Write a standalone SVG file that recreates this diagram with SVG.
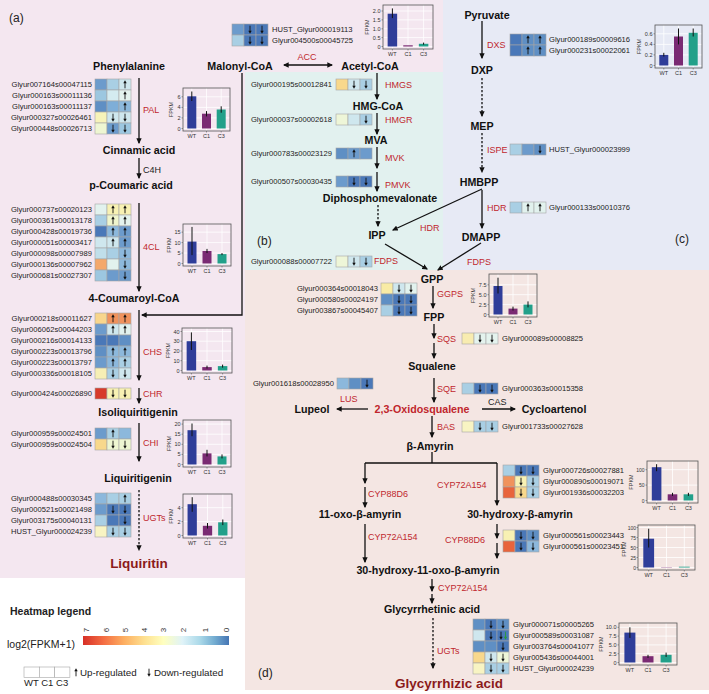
<svg xmlns="http://www.w3.org/2000/svg" width="709" height="694" viewBox="0 0 709 694">
<defs>
<marker id="ah" viewBox="0 0 10 10" refX="8" refY="5" markerWidth="4.5" markerHeight="4.5" orient="auto-start-reverse"><path d="M0,0.5L10,5L0,9.5Z" fill="#111"/></marker>
<g id="u"><path d="M0,3.8V-1.5" stroke="#111" stroke-width="0.9"/><path d="M-1.7,-1.2L0,-4.2L1.7,-1.2Z" fill="#111"/></g>
<g id="d"><path d="M0,-3.8V1.5" stroke="#111" stroke-width="0.9"/><path d="M-1.7,1.2L0,4.2L1.7,1.2Z" fill="#111"/></g>
<g id="dg"><path d="M0,-3.8V1.5" stroke="#2a9a3a" stroke-width="0.9"/><path d="M-1.7,1.2L0,4.2L1.7,1.2Z" fill="#2a9a3a"/></g>
<linearGradient id="lg" x1="0" x2="1" y1="0" y2="0">
<stop offset="0" stop-color="#d73027"/><stop offset="0.14" stop-color="#f46d43"/><stop offset="0.28" stop-color="#fdae61"/><stop offset="0.42" stop-color="#fee090"/><stop offset="0.55" stop-color="#ffffbf"/><stop offset="0.68" stop-color="#e0f3f8"/><stop offset="0.8" stop-color="#abd9e9"/><stop offset="0.9" stop-color="#74add1"/><stop offset="1" stop-color="#4575b4"/>
</linearGradient>
<style>
text{font-family:"Liberation Sans",Arial,sans-serif}
.m{font-weight:bold;font-size:10.7px;fill:#111;text-anchor:middle}
.e{font-size:9px;fill:#c0272d}
.k{font-size:9px;fill:#222}
.g{font-size:7.6px;fill:#222}
.r{text-anchor:end}
.a{font-size:5.5px;fill:#333}
.am{text-anchor:middle}
.ln{stroke:#111;stroke-width:1.3;fill:none;marker-end:url(#ah)}
.pl{stroke:#111;stroke-width:1.3;fill:none}
.dt{stroke-dasharray:2.2 1.8}
.hm rect{stroke:#a5a5a5;stroke-width:0.6}
.box{fill:none;stroke:#555;stroke-width:0.8}
.gd{stroke:#fff;stroke-width:0.8;fill:none}
.er{stroke:#111;stroke-width:1;fill:none}
.wt{fill:#2f3d99}.c1{fill:#7a2a73}.c3{fill:#22a08a}
.tk{stroke:#444;stroke-width:0.5;fill:none}
.pn{font-size:12px;fill:#222}
</style>
</defs>
<rect width="709" height="694" fill="#fff"/>
<path d="M0,0H443V72H245V578H0Z" fill="#f4e7f0"/>
<rect x="245" y="72" width="198" height="198" fill="#e2f1ef"/>
<rect x="443" y="0" width="266" height="270" fill="#e7eaf5"/>
<rect x="245" y="270" width="464" height="420" fill="#f4e6e3"/>

<text class="pn" x="9" y="22">(a)</text>
<text class="pn" x="257" y="245">(b)</text>
<text class="pn" x="675" y="243">(c)</text>
<text class="pn" x="258" y="677">(d)</text>

<!-- connectors -->
<g id="connectors">
<path class="ln" d="M139,78V143"/>
<path class="ln" d="M139,158V178"/>
<path class="ln" d="M139,203V291"/>
<path class="ln" d="M139,310V380"/>
<path class="ln" d="M139,388V403"/>
<path class="ln" d="M139,423V461"/>
<path class="ln dt" d="M139,490V550"/>
<path class="ln" d="M242,73V315H142"/>
<path class="ln" d="M284,65H332" marker-start="url(#ah)"/>
<path class="ln" d="M377,73V99"/>
<path class="ln" d="M377,113V134"/>
<path class="ln" d="M377,147V168"/>
<path class="ln" d="M377,172V191"/>
<path class="ln dt" d="M378,205V226"/>
<path class="ln" d="M482,189L393,230"/>
<path class="ln" d="M385,244L427,269"/>
<path class="ln" d="M481,243L438,270"/>
<path class="ln" d="M482,21V58"/>
<path class="ln dt" d="M482,78V116"/>
<path class="ln dt" d="M482,133V172"/>
<path class="ln" d="M482,190V228"/>
<path class="ln" d="M433,286V308"/>
<path class="ln" d="M434,324V338"/>
<path class="ln" d="M434,343V358"/>
<path class="ln" d="M434,378V402"/>
<path class="ln" d="M368,409H337"/>
<path class="ln" d="M482,409H515"/>
<path class="ln" d="M432,416V437"/>
<path class="pl" d="M432,452V463M365,463H497"/>
<path class="ln" d="M365,463V483"/>
<path class="ln" d="M365,487V507"/>
<path class="ln" d="M497,463V505"/>
<path class="ln" d="M365,524V562"/>
<path class="ln" d="M497,524V538"/>
<path class="ln" d="M497,543V558"/>
<path class="ln" d="M432,579V591"/>
<path class="ln" d="M432,594V603"/>
<path class="ln dt" d="M433,618V668"/>
</g>

<!-- metabolites -->
<g id="metabolites">
<text class="m" x="129" y="70">Phenylalanine</text>
<text class="m" x="240" y="70">Malonyl-CoA</text>
<text class="m" x="370" y="70">Acetyl-CoA</text>
<text class="m" x="139" y="154">Cinnamic acid</text>
<text class="m" x="131" y="189">p-Coumaric acid</text>
<text class="m" x="134" y="302">4-Coumaroyl-CoA</text>
<text class="m" x="138" y="416">Isoliquiritigenin</text>
<text class="m" x="138" y="482">Liquiritigenin</text>
<text class="m" x="139" y="568" style="font-size:13.5px;fill:#8b1a1a">Liquiritin</text>
<text class="m" x="378" y="110">HMG-CoA</text>
<text class="m" x="376" y="144">MVA</text>
<text class="m" x="380" y="202">Diphosphomevalonate</text>
<text class="m" x="377" y="239">IPP</text>
<text class="m" x="487" y="19">Pyruvate</text>
<text class="m" x="482" y="74">DXP</text>
<text class="m" x="482" y="130">MEP</text>
<text class="m" x="479" y="186">HMBPP</text>
<text class="m" x="481" y="241">DMAPP</text>
<text class="m" x="432" y="283">GPP</text>
<text class="m" x="434" y="321">FPP</text>
<text class="m" x="432" y="370">Squalene</text>
<text class="m" x="422" y="413" style="fill:#c0272d">2,3-Oxidosqualene</text>
<text class="m" x="312" y="413">Lupeol</text>
<text class="m" x="554" y="413">Cycloartenol</text>
<text class="m" x="430" y="450">β-Amyrin</text>
<text class="m" x="360" y="518">11-oxo-β-amyrin</text>
<text class="m" x="520" y="518">30-hydroxy-β-amyrin</text>
<text class="m" x="428" y="574">30-hydroxy-11-oxo-β-amyrin</text>
<text class="m" x="432" y="613">Glycyrrhetinic acid</text>
<text class="m" x="449" y="688" style="font-size:13.5px;fill:#8b1a1a">Glycyrrhizic acid</text>
</g>

<!-- enzyme labels -->
<g id="enzymes">
<text class="e am" x="307" y="60">ACC</text>
<text class="e" x="143" y="113">PAL</text>
<text class="k" x="143" y="173">C4H</text>
<text class="e" x="143" y="250">4CL</text>
<text class="e" x="143" y="355">CHS</text>
<text class="e" x="143" y="397">CHR</text>
<text class="e" x="143" y="446">CHI</text>
<text class="e" x="143" y="521">UGTs</text>
<text class="e" x="385" y="88">HMGS</text>
<text class="e" x="385" y="123">HMGR</text>
<text class="e" x="385" y="161">MVK</text>
<text class="e" x="385" y="188">PMVK</text>
<text class="e" x="420" y="231">HDR</text>
<text class="e" x="374" y="264">FDPS</text>
<text class="e" x="487" y="48">DXS</text>
<text class="e" x="487" y="153">ISPE</text>
<text class="e" x="487" y="211">HDR</text>
<text class="e" x="467" y="265">FDPS</text>
<text class="e" x="437" y="297">GGPS</text>
<text class="e" x="437" y="342">SQS</text>
<text class="e" x="437" y="392">SQE</text>
<text class="e" x="340" y="402">LUS</text>
<text class="k" x="488" y="405">CAS</text>
<text class="e" x="437" y="430">BAS</text>
<text class="e" x="368" y="497">CYP88D6</text>
<text class="e" x="437" y="488">CYP72A154</text>
<text class="e" x="368" y="540">CYP72A154</text>
<text class="e" x="445" y="543">CYP88D6</text>
<text class="e" x="438" y="591">CYP72A154</text>
<text class="e" x="437" y="654">UGTs</text>
</g>

<!-- heatmaps (a) -->
<g id="hm-acc" class="hm">
<rect x="232" y="24" width="12" height="11" fill="#6c9bcc"/><rect x="244" y="24" width="12" height="11" fill="#4a78b8"/><rect x="256" y="24" width="12" height="11" fill="#4a78b8"/>
<rect x="232" y="35" width="12" height="11" fill="#a9cfe4"/><rect x="244" y="35" width="12" height="11" fill="#4a78b8"/><rect x="256" y="35" width="12" height="11" fill="#4a78b8"/>
<use href="#d" x="250" y="29.5"/><use href="#d" x="262" y="29.5"/><use href="#d" x="250" y="40.5"/><use href="#d" x="262" y="40.5"/>
<text class="g" x="272" y="32.2">HUST_Glyur000019113</text>
<text class="g" x="272" y="43.2">Glyur004500s00045725</text>
</g>

<g id="hm-pal" class="hm">
<rect x="95" y="79" width="12" height="11" fill="#6c9bcc"/><rect x="107" y="79" width="12" height="11" fill="#a9cfe4"/><rect x="119" y="79" width="12" height="11" fill="#cfe7ee"/>
<rect x="95" y="90" width="12" height="11" fill="#9cc7e0"/><rect x="107" y="90" width="12" height="11" fill="#d4ebf0"/><rect x="119" y="90" width="12" height="11" fill="#e4f3ee"/>
<rect x="95" y="101" width="12" height="11" fill="#5f8fc4"/><rect x="107" y="101" width="12" height="11" fill="#7eaed8"/><rect x="119" y="101" width="12" height="11" fill="#8cb8dc"/>
<rect x="95" y="112" width="12" height="11" fill="#f7f3b9"/><rect x="107" y="112" width="12" height="11" fill="#cfe7ee"/><rect x="119" y="112" width="12" height="11" fill="#cfe7ee"/>
<rect x="95" y="123" width="12" height="11" fill="#eef6d2"/><rect x="107" y="123" width="12" height="11" fill="#6c9bcc"/><rect x="119" y="123" width="12" height="11" fill="#9cc7e0"/>
<use href="#u" x="125" y="84.5"/><use href="#u" x="125" y="95.5"/><use href="#u" x="125" y="106.5"/>
<use href="#d" x="113" y="117.5"/><use href="#d" x="125" y="117.5"/><use href="#d" x="113" y="128.5"/><use href="#d" x="125" y="128.5"/>
<text class="g r" x="92" y="87.2">Glyur007164s00047115</text>
<text class="g r" x="92" y="98.2">Glyur000163s00011136</text>
<text class="g r" x="92" y="109.2">Glyur000163s00011137</text>
<text class="g r" x="92" y="120.2">Glyur000327s00026461</text>
<text class="g r" x="92" y="131.2">Glyur000448s00026713</text>
</g>

<g id="hm-4cl" class="hm">
<rect x="95" y="204" width="12" height="11" fill="#e2f2ee"/><rect x="107" y="204" width="12" height="11" fill="#f8f1b3"/><rect x="119" y="204" width="12" height="11" fill="#f8f1b3"/>
<rect x="95" y="215" width="12" height="11" fill="#a9cfe4"/><rect x="107" y="215" width="12" height="11" fill="#f0f5cc"/><rect x="119" y="215" width="12" height="11" fill="#e4f3ee"/>
<rect x="95" y="226" width="12" height="11" fill="#4a78b8"/><rect x="107" y="226" width="12" height="11" fill="#8cb8dc"/><rect x="119" y="226" width="12" height="11" fill="#6c9bcc"/>
<rect x="95" y="237" width="12" height="11" fill="#cfe7ee"/><rect x="107" y="237" width="12" height="11" fill="#cfe7ee"/><rect x="119" y="237" width="12" height="11" fill="#6c9bcc"/>
<rect x="95" y="248" width="12" height="11" fill="#c0dfea"/><rect x="107" y="248" width="12" height="11" fill="#a9cfe4"/><rect x="119" y="248" width="12" height="11" fill="#8cb8dc"/>
<rect x="95" y="259" width="12" height="11" fill="#f4a86a"/><rect x="107" y="259" width="12" height="11" fill="#e2f2ee"/><rect x="119" y="259" width="12" height="11" fill="#8cb8dc"/>
<rect x="95" y="270" width="12" height="11" fill="#9cc7e0"/><rect x="107" y="270" width="12" height="11" fill="#6c9bcc"/><rect x="119" y="270" width="12" height="11" fill="#6c9bcc"/>
<use href="#u" x="113" y="209.5"/><use href="#u" x="125" y="209.5"/><use href="#u" x="113" y="220.5"/><use href="#u" x="125" y="220.5"/>
<use href="#u" x="113" y="231.5"/><use href="#u" x="125" y="231.5"/><use href="#u" x="113" y="242.5"/><use href="#u" x="125" y="242.5"/>
<use href="#d" x="125" y="253.5"/><use href="#d" x="125" y="264.5"/><use href="#d" x="125" y="275.5"/>
<text class="g r" x="92" y="212.2">Glyur000737s00020123</text>
<text class="g r" x="92" y="223.2">Glyur000361s00013178</text>
<text class="g r" x="92" y="234.2">Glyur000428s00019736</text>
<text class="g r" x="92" y="245.2">Glyur000051s00003417</text>
<text class="g r" x="92" y="256.2">Glyur000098s00007989</text>
<text class="g r" x="92" y="267.2">Glyur000136s00007962</text>
<text class="g r" x="92" y="278.2">Glyur000681s00027307</text>
</g>

<g id="hm-chs" class="hm">
<rect x="95" y="313" width="12" height="11" fill="#f8d68c"/><rect x="107" y="313" width="12" height="11" fill="#f0925c"/><rect x="119" y="313" width="12" height="11" fill="#f0925c"/>
<rect x="95" y="324" width="12" height="11" fill="#6c9bcc"/><rect x="107" y="324" width="12" height="11" fill="#cfe7ee"/><rect x="119" y="324" width="12" height="11" fill="#e2f2ee"/>
<rect x="95" y="335" width="12" height="11" fill="#4a78b8"/><rect x="107" y="335" width="12" height="11" fill="#4a78b8"/><rect x="119" y="335" width="12" height="11" fill="#5f8fc4"/>
<rect x="95" y="346" width="12" height="11" fill="#5f8fc4"/><rect x="107" y="346" width="12" height="11" fill="#8cb8dc"/><rect x="119" y="346" width="12" height="11" fill="#8cb8dc"/>
<rect x="95" y="357" width="12" height="11" fill="#6c9bcc"/><rect x="107" y="357" width="12" height="11" fill="#8cb8dc"/><rect x="119" y="357" width="12" height="11" fill="#a9cfe4"/>
<rect x="95" y="368" width="12" height="11" fill="#f6efb5"/><rect x="107" y="368" width="12" height="11" fill="#a9cfe4"/><rect x="119" y="368" width="12" height="11" fill="#cfe7ee"/>
<use href="#u" x="113" y="318.5"/><use href="#u" x="125" y="318.5"/><use href="#u" x="113" y="329.5"/><use href="#u" x="125" y="329.5"/>
<use href="#u" x="113" y="351.5"/><use href="#u" x="125" y="351.5"/><use href="#u" x="113" y="362.5"/><use href="#u" x="125" y="362.5"/>
<use href="#d" x="113" y="373.5"/><use href="#d" x="125" y="373.5"/>
<text class="g r" x="92" y="321.2">Glyur000218s00011627</text>
<text class="g r" x="92" y="332.2">Glyur006062s00044203</text>
<text class="g r" x="92" y="343.2">Glyur000216s00014133</text>
<text class="g r" x="92" y="354.2">Glyur000223s00013796</text>
<text class="g r" x="92" y="365.2">Glyur000223s00013797</text>
<text class="g r" x="92" y="376.2">Glyur000336s00018105</text>
</g>

<g id="hm-chr" class="hm">
<rect x="95" y="388" width="12" height="11" fill="#d73a2a"/><rect x="107" y="388" width="12" height="11" fill="#f8f1b3"/><rect x="119" y="388" width="12" height="11" fill="#f8f1b3"/>
<use href="#d" x="113" y="393.5"/><use href="#d" x="125" y="393.5"/>
<text class="g r" x="92" y="396.2">Glyur000424s00026890</text>
</g>

<g id="hm-chi" class="hm">
<rect x="95" y="428" width="12" height="11" fill="#6c9bcc"/><rect x="107" y="428" width="12" height="11" fill="#a9cfe4"/><rect x="119" y="428" width="12" height="11" fill="#8cb8dc"/>
<rect x="95" y="439" width="12" height="11" fill="#f8d88c"/><rect x="107" y="439" width="12" height="11" fill="#eef6d2"/><rect x="119" y="439" width="12" height="11" fill="#eef6d2"/>
<use href="#u" x="113" y="433.5"/><use href="#d" x="113" y="444.5"/><use href="#d" x="125" y="444.5"/>
<text class="g r" x="92" y="436.2">Glyur000959s00024501</text>
<text class="g r" x="92" y="447.2">Glyur000959s00024504</text>
</g>

<g id="hm-ugt-a" class="hm">
<rect x="95" y="493" width="12" height="11" fill="#8cb8dc"/><rect x="107" y="493" width="12" height="11" fill="#a9cfe4"/><rect x="119" y="493" width="12" height="11" fill="#a9cfe4"/>
<rect x="95" y="504" width="12" height="11" fill="#6c9bcc"/><rect x="107" y="504" width="12" height="11" fill="#4a78b8"/><rect x="119" y="504" width="12" height="11" fill="#4a78b8"/>
<rect x="95" y="515" width="12" height="11" fill="#a9cfe4"/><rect x="107" y="515" width="12" height="11" fill="#4a78b8"/><rect x="119" y="515" width="12" height="11" fill="#4a78b8"/>
<rect x="95" y="526" width="12" height="11" fill="#f8f4c3"/><rect x="107" y="526" width="12" height="11" fill="#a9cfe4"/><rect x="119" y="526" width="12" height="11" fill="#a9cfe4"/>
<use href="#u" x="125" y="498.5"/><use href="#d" x="113" y="509.5"/><use href="#d" x="125" y="509.5"/><use href="#d" x="125" y="520.5"/>
<use href="#d" x="113" y="531.5"/><use href="#d" x="125" y="531.5"/>
<text class="g r" x="92" y="501.2">Glyur000488s00030345</text>
<text class="g r" x="92" y="512.2">Glyur000521s00021498</text>
<text class="g r" x="92" y="523.2">Glyur003175s00040131</text>
<text class="g r" x="92" y="534.2">HUST_Glyur000024239</text>
</g>

<!-- heatmaps (b) -->
<g id="hm-hmgs" class="hm">
<rect x="336" y="79" width="12" height="11" fill="#f8d88c"/><rect x="348" y="79" width="12" height="11" fill="#cfe7ee"/><rect x="360" y="79" width="12" height="11" fill="#a9cfe4"/>
<use href="#d" x="354" y="84.5"/><use href="#d" x="366" y="84.5"/>
<text class="g r" x="332" y="87.2">Glyur000195s00012841</text>
</g>
<g id="hm-hmgr" class="hm">
<rect x="336" y="114" width="12" height="11" fill="#eef6d8"/><rect x="348" y="114" width="12" height="11" fill="#cfe7ee"/><rect x="360" y="114" width="12" height="11" fill="#a9cfe4"/>
<use href="#d" x="366" y="119.5"/>
<text class="g r" x="332" y="122.2">Glyur000037s00002618</text>
</g>
<g id="hm-mvk" class="hm">
<rect x="336" y="148" width="12" height="11" fill="#5f8fc4"/><rect x="348" y="148" width="12" height="11" fill="#6c9bcc"/><rect x="360" y="148" width="12" height="11" fill="#6c9bcc"/>
<use href="#u" x="354" y="153.5"/>
<text class="g r" x="332" y="156.2">Glyur000783s00023129</text>
</g>
<g id="hm-pmvk" class="hm">
<rect x="336" y="176" width="12" height="11" fill="#6c9bcc"/><rect x="348" y="176" width="12" height="11" fill="#4a78b8"/><rect x="360" y="176" width="12" height="11" fill="#4a78b8"/>
<use href="#d" x="354" y="181.5"/><use href="#d" x="366" y="181.5"/>
<text class="g r" x="332" y="184.2">Glyur000507s00030435</text>
</g>
<g id="hm-fdps" class="hm">
<rect x="336" y="256" width="12" height="11" fill="#eef6d8"/><rect x="348" y="256" width="12" height="11" fill="#cfe7ee"/><rect x="360" y="256" width="12" height="11" fill="#a9cfe4"/>
<use href="#d" x="354" y="261.5"/><use href="#d" x="366" y="261.5"/>
<text class="g r" x="332" y="264.2">Glyur000088s00007722</text>
</g>

<!-- heatmaps (c) -->
<g id="hm-dxs" class="hm">
<rect x="510" y="34" width="12" height="11" fill="#4a78b8"/><rect x="522" y="34" width="12" height="11" fill="#5f8fc4"/><rect x="534" y="34" width="12" height="11" fill="#5f8fc4"/>
<rect x="510" y="45" width="12" height="11" fill="#4a78b8"/><rect x="522" y="45" width="12" height="11" fill="#5f8fc4"/><rect x="534" y="45" width="12" height="11" fill="#5f8fc4"/>
<use href="#u" x="528" y="39.5"/><use href="#u" x="540" y="39.5"/><use href="#u" x="528" y="50.5"/><use href="#u" x="540" y="50.5"/>
<text class="g" x="549" y="42.2">Glyur000189s00009616</text>
<text class="g" x="549" y="53.2">Glyur000231s00022061</text>
</g>
<g id="hm-ispe" class="hm">
<rect x="510" y="144" width="12" height="11" fill="#a9cfe4"/><rect x="522" y="144" width="12" height="11" fill="#6c9bcc"/><rect x="534" y="144" width="12" height="11" fill="#5f8fc4"/>
<use href="#d" x="540" y="149.5"/>
<text class="g" x="549" y="152.2">HUST_Glyur000023999</text>
</g>
<g id="hm-hdr" class="hm">
<rect x="510" y="202" width="12" height="11" fill="#a9cfe4"/><rect x="522" y="202" width="12" height="11" fill="#e2f2ee"/><rect x="534" y="202" width="12" height="11" fill="#e2f2ee"/>
<use href="#u" x="528" y="207.5"/><use href="#u" x="540" y="207.5"/>
<text class="g" x="549" y="210.2">Glyur000133s00010376</text>
</g>

<!-- heatmaps (d) -->
<g id="hm-ggps" class="hm">
<rect x="381" y="283" width="12" height="11" fill="#f8eba5"/><rect x="393" y="283" width="12" height="11" fill="#cfe7ee"/><rect x="405" y="283" width="12" height="11" fill="#e2f2ee"/>
<rect x="381" y="294" width="12" height="11" fill="#5f8fc4"/><rect x="393" y="294" width="12" height="11" fill="#4a78b8"/><rect x="405" y="294" width="12" height="11" fill="#4a78b8"/>
<rect x="381" y="305" width="12" height="11" fill="#a9cfe4"/><rect x="393" y="305" width="12" height="11" fill="#4a78b8"/><rect x="405" y="305" width="12" height="11" fill="#4a78b8"/>
<use href="#d" x="399" y="288.5"/><use href="#d" x="411" y="288.5"/><use href="#d" x="399" y="299.5"/><use href="#d" x="411" y="299.5"/><use href="#d" x="399" y="310.5"/><use href="#d" x="411" y="310.5"/>
<text class="g r" x="378" y="291.2">Glyur000364s00018043</text>
<text class="g r" x="378" y="302.2">Glyur000580s00024197</text>
<text class="g r" x="378" y="313.2">Glyur003867s00045407</text>
</g>
<g id="hm-sqs" class="hm">
<rect x="462" y="333" width="12" height="11" fill="#f8ecb0"/><rect x="474" y="333" width="12" height="11" fill="#e4f3ee"/><rect x="486" y="333" width="12" height="11" fill="#e4f3ee"/>
<use href="#d" x="480" y="338.5"/><use href="#d" x="492" y="338.5"/>
<text class="g" x="502" y="341.2">Glyur000089s00008825</text>
</g>
<g id="hm-sqe" class="hm">
<rect x="462" y="383" width="12" height="11" fill="#a9cfe4"/><rect x="474" y="383" width="12" height="11" fill="#4a78b8"/><rect x="486" y="383" width="12" height="11" fill="#4a78b8"/>
<use href="#d" x="480" y="388.5"/><use href="#d" x="492" y="388.5"/>
<text class="g" x="502" y="391.2">Glyur000363s00015358</text>
</g>
<g id="hm-lus" class="hm">
<rect x="337" y="378" width="12" height="11" fill="#8cb8dc"/><rect x="349" y="378" width="12" height="11" fill="#5f8fc4"/><rect x="361" y="378" width="12" height="11" fill="#4a78b8"/>
<use href="#d" x="367" y="383.5"/>
<text class="g r" x="334" y="386.2">Glyur001618s00028950</text>
</g>
<g id="hm-bas" class="hm">
<rect x="462" y="421" width="12" height="11" fill="#f8f4c3"/><rect x="474" y="421" width="12" height="11" fill="#a9cfe4"/><rect x="486" y="421" width="12" height="11" fill="#a9cfe4"/>
<use href="#d" x="480" y="426.5"/><use href="#d" x="492" y="426.5"/>
<text class="g" x="502" y="429.2">Glyur001733s00027628</text>
</g>
<g id="hm-cyp72" class="hm">
<rect x="503" y="465" width="12" height="11" fill="#a9cfe4"/><rect x="515" y="465" width="12" height="11" fill="#4a78b8"/><rect x="527" y="465" width="12" height="11" fill="#4a78b8"/>
<rect x="503" y="476" width="12" height="11" fill="#f0925c"/><rect x="515" y="476" width="12" height="11" fill="#f8f1b3"/><rect x="527" y="476" width="12" height="11" fill="#a9cfe4"/>
<rect x="503" y="487" width="12" height="11" fill="#e8643c"/><rect x="515" y="487" width="12" height="11" fill="#f8d88c"/><rect x="527" y="487" width="12" height="11" fill="#a9cfe4"/>
<use href="#d" x="521" y="470.5"/><use href="#d" x="533" y="470.5"/><use href="#d" x="521" y="481.5"/><use href="#d" x="533" y="481.5"/><use href="#d" x="521" y="492.5"/><use href="#d" x="533" y="492.5"/>
<text class="g" x="543" y="473.2">Glyur000726s00027881</text>
<text class="g" x="543" y="484.2">Glyur000890s00019071</text>
<text class="g" x="543" y="495.2">Glyur001936s00032203</text>
</g>
<g id="hm-cyp88" class="hm">
<rect x="503" y="530" width="12" height="11" fill="#f8f1b3"/><rect x="515" y="530" width="12" height="11" fill="#4a78b8"/><rect x="527" y="530" width="12" height="11" fill="#5f8fc4"/>
<rect x="503" y="541" width="12" height="11" fill="#e8643c"/><rect x="515" y="541" width="12" height="11" fill="#4a78b8"/><rect x="527" y="541" width="12" height="11" fill="#8cb8dc"/>
<use href="#d" x="521" y="535.5"/><use href="#d" x="533" y="535.5"/><use href="#d" x="521" y="546.5"/><use href="#d" x="533" y="546.5"/>
<text class="g" x="543" y="538.2">Glyur000561s00023443</text>
<text class="g" x="543" y="549.2">Glyur000561s00023451</text>
</g>
<g id="hm-ugt-d" class="hm">
<rect x="473" y="619" width="12" height="11" fill="#5f8fc4"/><rect x="485" y="619" width="12" height="11" fill="#4a78b8"/><rect x="497" y="619" width="12" height="11" fill="#5f8fc4"/>
<rect x="473" y="630" width="12" height="11" fill="#cfe7ee"/><rect x="485" y="630" width="12" height="11" fill="#4a78b8"/><rect x="497" y="630" width="12" height="11" fill="#4a78b8"/>
<rect x="473" y="641" width="12" height="11" fill="#5f8fc4"/><rect x="485" y="641" width="12" height="11" fill="#5f8fc4"/><rect x="497" y="641" width="12" height="11" fill="#4a78b8"/>
<rect x="473" y="652" width="12" height="11" fill="#f8d88c"/><rect x="485" y="652" width="12" height="11" fill="#cfe7ee"/><rect x="497" y="652" width="12" height="11" fill="#eef6d8"/>
<rect x="473" y="663" width="12" height="11" fill="#f8f4c3"/><rect x="485" y="663" width="12" height="11" fill="#a9cfe4"/><rect x="497" y="663" width="12" height="11" fill="#a9cfe4"/>
<use href="#d" x="491" y="624.5"/><use href="#d" x="503" y="624.5"/><use href="#d" x="491" y="635.5"/><use href="#d" x="501" y="635.5"/><use href="#dg" x="505.5" y="635.5"/>
<use href="#d" x="503" y="646.5"/><use href="#d" x="491" y="657.5"/><use href="#d" x="503" y="657.5"/><use href="#d" x="491" y="668.5"/><use href="#d" x="503" y="668.5"/>
<text class="g" x="513" y="627.2">Glyur000071s00005265</text>
<text class="g" x="513" y="638.2">Glyur000589s00031087</text>
<text class="g" x="513" y="649.2">Glyur003764s00041077</text>
<text class="g" x="513" y="660.2">Glyur005436s00044001</text>
<text class="g" x="513" y="671.2">HUST_Glyur000024239</text>
</g>

<!-- charts -->
<g id="chart-acc" transform="translate(383,5)">
<path class="gd" d="M0,41.5H50M0,32.6H50M0,23.8H50M0,14.9H50M0,6H50M9.4,0V44M25,0V44M40.6,0V44"/>
<rect class="wt" x="4.65" y="8.7" width="9.5" height="32.8"/><rect class="c1" x="20.25" y="40.3" width="9.5" height="1.2"/><rect class="c3" x="35.85" y="38.8" width="9.5" height="2.7"/>
<path class="er" d="M9.4,3.4V13.1M40.6,37.6V39.7"/>
<rect class="box" width="50" height="44"/>
<path class="tk" d="M-1.5,41.5H0M-1.5,32.6H0M-1.5,23.8H0M-1.5,14.9H0M-1.5,6H0M9.4,44V45.5M25,44V45.5M40.6,44V45.5"/>
<text class="a r" x="-2.5" y="43.5">0</text><text class="a r" x="-2.5" y="34.6">0.5</text><text class="a r" x="-2.5" y="25.8">1.0</text><text class="a r" x="-2.5" y="16.9">1.5</text><text class="a r" x="-2.5" y="8">2.0</text>
<text class="a am" transform="translate(-14,22) rotate(-90)">FPKM</text>
<text class="a am" x="9.4" y="51">WT</text><text class="a am" x="25" y="51">C1</text><text class="a am" x="40.6" y="51">C3</text>
</g>

<g id="chart-pal" transform="translate(183,88)">
<path class="gd" d="M0,40.5H47M0,29.9H47M0,19.4H47M0,8.8H47M8.8,0V43M23.5,0V43M38.2,0V43"/>
<rect class="wt" x="4.3" y="8.3" width="9" height="32.2"/><rect class="c1" x="19" y="25.7" width="9" height="14.8"/><rect class="c3" x="33.7" y="21.5" width="9" height="19"/>
<path class="er" d="M8.8,3.5V13M23.5,23.1V28.4M38.2,18.3V24.7"/>
<rect class="box" width="47" height="43"/>
<path class="tk" d="M-1.5,40.5H0M-1.5,29.9H0M-1.5,19.4H0M-1.5,8.8H0M8.8,43V44.5M23.5,43V44.5M38.2,43V44.5"/>
<text class="a r" x="-2.5" y="42.5">0</text><text class="a r" x="-2.5" y="31.9">2</text><text class="a r" x="-2.5" y="21.4">4</text><text class="a r" x="-2.5" y="10.8">6</text>
<text class="a am" transform="translate(-10,21.5) rotate(-90)">FPKM</text>
<text class="a am" x="8.8" y="50">WT</text><text class="a am" x="23.5" y="50">C1</text><text class="a am" x="38.2" y="50">C3</text>
</g>

<g id="chart-4cl" transform="translate(183,224)">
<path class="gd" d="M0,39.5H48M0,29.05H48M0,18.6H48M0,8.15H48M9,0V42M24,0V42M39,0V42"/>
<rect class="wt" x="4.5" y="17.6" width="9" height="21.9"/><rect class="c1" x="19.5" y="27" width="9" height="12.5"/><rect class="c3" x="34.5" y="30.1" width="9" height="9.4"/>
<path class="er" d="M9,2.9V31.1M24,24.9V29.05M39,29.05V31.1"/>
<rect class="box" width="48" height="42"/>
<path class="tk" d="M-1.5,39.5H0M-1.5,29.05H0M-1.5,18.6H0M-1.5,8.15H0M9,42V43.5M24,42V43.5M39,42V43.5"/>
<text class="a r" x="-2.5" y="41.5">0</text><text class="a r" x="-2.5" y="31">5</text><text class="a r" x="-2.5" y="20.6">10</text><text class="a r" x="-2.5" y="10.1">15</text>
<text class="a am" transform="translate(-12,21) rotate(-90)">FPKM</text>
<text class="a am" x="9" y="49">WT</text><text class="a am" x="24" y="49">C1</text><text class="a am" x="39" y="49">C3</text>
</g>

<g id="chart-chs" transform="translate(182,328)">
<path class="gd" d="M0,42.5H50M0,32.7H50M0,23H50M0,13.2H50M0,3.5H50M9.4,0V45M25,0V45M40.6,0V45"/>
<rect class="wt" x="4.65" y="13.2" width="9.5" height="29.3"/><rect class="c1" x="20.25" y="39.1" width="9.5" height="3.4"/><rect class="c3" x="35.85" y="38.1" width="9.5" height="4.4"/>
<path class="er" d="M9.4,4.4V22M25,37.6V40.5M40.6,36.6V39.6"/>
<rect class="box" width="50" height="45"/>
<path class="tk" d="M-1.5,42.5H0M-1.5,32.7H0M-1.5,23H0M-1.5,13.2H0M-1.5,3.5H0M9.4,45V46.5M25,45V46.5M40.6,45V46.5"/>
<text class="a r" x="-2.5" y="44.5">0</text><text class="a r" x="-2.5" y="34.7">10</text><text class="a r" x="-2.5" y="25">20</text><text class="a r" x="-2.5" y="15.2">30</text><text class="a r" x="-2.5" y="5.5">40</text>
<text class="a am" transform="translate(-12,22.5) rotate(-90)">FPKM</text>
<text class="a am" x="9.4" y="52">WT</text><text class="a am" x="25" y="52">C1</text><text class="a am" x="40.6" y="52">C3</text>
</g>

<g id="chart-chi" transform="translate(183,420)">
<path class="gd" d="M0,44.5H48M0,34.4H48M0,24.3H48M0,14.2H48M0,4.1H48M9,0V47M24,0V47M39,0V47"/>
<rect class="wt" x="4.5" y="10.2" width="9" height="34.3"/><rect class="c1" x="19.5" y="33.4" width="9" height="11.1"/><rect class="c3" x="34.5" y="36.4" width="9" height="8.1"/>
<path class="er" d="M9,3.5V16.2M24,29.8V36.4M39,34.4V38.4"/>
<rect class="box" width="48" height="47"/>
<path class="tk" d="M-1.5,44.5H0M-1.5,34.4H0M-1.5,24.3H0M-1.5,14.2H0M-1.5,4.1H0M9,47V48.5M24,47V48.5M39,47V48.5"/>
<text class="a r" x="-2.5" y="46.5">0</text><text class="a r" x="-2.5" y="36.4">5</text><text class="a r" x="-2.5" y="26.3">10</text><text class="a r" x="-2.5" y="16.2">15</text><text class="a r" x="-2.5" y="6.1">20</text>
<text class="a am" transform="translate(-12,23.5) rotate(-90)">FPKM</text>
<text class="a am" x="9" y="54">WT</text><text class="a am" x="24" y="54">C1</text><text class="a am" x="39" y="54">C3</text>
</g>

<g id="chart-ugt-a" transform="translate(183,494)">
<path class="gd" d="M0,41.5H49M0,27.6H49M0,13.7H49M9.2,0V44M24.5,0V44M39.8,0V44"/>
<rect class="wt" x="4.55" y="10.2" width="9.3" height="31.3"/><rect class="c1" x="19.85" y="31.8" width="9.3" height="9.7"/><rect class="c3" x="35.15" y="28.3" width="9.3" height="13.2"/>
<path class="er" d="M9.2,3.2V17.8M24.5,29V34.5M39.8,25.5V31.1"/>
<rect class="box" width="49" height="44"/>
<path class="tk" d="M-1.5,41.5H0M-1.5,27.6H0M-1.5,13.7H0M9.2,44V45.5M24.5,44V45.5M39.8,44V45.5"/>
<text class="a r" x="-2.5" y="43.5">0</text><text class="a r" x="-2.5" y="29.6">2</text><text class="a r" x="-2.5" y="15.7">4</text>
<text class="a am" transform="translate(-10,22) rotate(-90)">FPKM</text>
<text class="a am" x="9.2" y="51">WT</text><text class="a am" x="24.5" y="51">C1</text><text class="a am" x="39.8" y="51">C3</text>
</g>

<g id="chart-dxs" transform="translate(655,25)">
<path class="gd" d="M0,40.5H47M0,29.9H47M0,19.4H47M0,8.8H47M8.8,0V43M23.5,0V43M38.2,0V43"/>
<rect class="wt" x="4.3" y="29.9" width="9" height="10.6"/><rect class="c1" x="19" y="11.5" width="9" height="29"/><rect class="c3" x="33.7" y="7.8" width="9" height="32.7"/>
<path class="er" d="M8.8,27.8V31.5M23.5,3.5V19.4M38.2,3.5V11.5"/>
<rect class="box" width="47" height="43"/>
<path class="tk" d="M-1.5,40.5H0M-1.5,29.9H0M-1.5,19.4H0M-1.5,8.8H0M8.8,43V44.5M23.5,43V44.5M38.2,43V44.5"/>
<text class="a r" x="-2.5" y="42.5">0</text><text class="a r" x="-2.5" y="31.9">0.2</text><text class="a r" x="-2.5" y="21.4">0.4</text><text class="a r" x="-2.5" y="10.8">0.6</text>
<text class="a am" transform="translate(-14,21.5) rotate(-90)">FPKM</text>
<text class="a am" x="8.8" y="50">WT</text><text class="a am" x="23.5" y="50">C1</text><text class="a am" x="38.2" y="50">C3</text>
</g>

<g id="chart-ggps" transform="translate(489,274)">
<path class="gd" d="M0,40.5H48M0,30.6H48M0,20.7H48M0,10.8H48M9,0V43M24,0V43M39,0V43"/>
<rect class="wt" x="4.5" y="12" width="9" height="28.5"/><rect class="c1" x="19.5" y="34.6" width="9" height="5.9"/><rect class="c3" x="34.5" y="30.6" width="9" height="9.9"/>
<path class="er" d="M9,3.7V19.5M24,32.6V36.5M39,27.4V33.4"/>
<rect class="box" width="48" height="43"/>
<path class="tk" d="M-1.5,40.5H0M-1.5,30.6H0M-1.5,20.7H0M-1.5,10.8H0M9,43V44.5M24,43V44.5M39,43V44.5"/>
<text class="a r" x="-2.5" y="42.5">0</text><text class="a r" x="-2.5" y="32.6">2.5</text><text class="a r" x="-2.5" y="22.7">5.0</text><text class="a r" x="-2.5" y="12.8">7.5</text>
<text class="a am" transform="translate(-14,21.5) rotate(-90)">FPKM</text>
<text class="a am" x="9" y="50">WT</text><text class="a am" x="24" y="50">C1</text><text class="a am" x="39" y="50">C3</text>
</g>

<g id="chart-cyp72" transform="translate(647,461)">
<path class="gd" d="M0,39.5H51M0,24.1H51M0,8.7H51M9.6,0V42M25.5,0V42M41.4,0V42"/>
<rect class="wt" x="4.8" y="6.2" width="9.6" height="33.3"/><rect class="c1" x="20.7" y="33.3" width="9.6" height="6.2"/><rect class="c3" x="36.6" y="33.3" width="9.6" height="6.2"/>
<path class="er" d="M9.6,3.2V10.2M25.5,31.8V34.9M41.4,31.8V34.9"/>
<rect class="box" width="51" height="42"/>
<path class="tk" d="M-1.5,39.5H0M-1.5,24.1H0M-1.5,8.7H0M9.6,42V43.5M25.5,42V43.5M41.4,42V43.5"/>
<text class="a r" x="-2.5" y="41.5" style="font-size:5px">0</text><text class="a r" x="-2.5" y="26.1" style="font-size:5px">50</text><text class="a r" x="-2.5" y="10.7" style="font-size:5px">100</text>
<text class="a am" transform="translate(-14,21) rotate(-90)">FPKM</text>
<text class="a am" x="9.6" y="49">WT</text><text class="a am" x="25.5" y="49">C1</text><text class="a am" x="41.4" y="49">C3</text>
</g>

<g id="chart-cyp88" transform="translate(638,525)">
<path class="gd" d="M0,42.5H57M0,32.5H57M0,22.5H57M0,12.5H57M0,2.5H57M10.7,0V45M28.5,0V45M46.3,0V45"/>
<rect class="wt" x="5.3" y="13.7" width="10.8" height="28.8"/><rect class="c1" x="23.1" y="42.2" width="10.8" height="0.3"/><rect class="c3" x="40.9" y="41.7" width="10.8" height="0.8"/>
<path class="er" d="M10.7,3.7V22.5"/>
<rect class="box" width="57" height="45"/>
<path class="tk" d="M-1.5,42.5H0M-1.5,32.5H0M-1.5,22.5H0M-1.5,12.5H0M-1.5,2.5H0M10.7,45V46.5M28.5,45V46.5M46.3,45V46.5"/>
<text class="a r" x="-2" y="44.5" style="font-size:5px">0</text><text class="a r" x="-2" y="34.5" style="font-size:5px">25</text><text class="a r" x="-2" y="24.5" style="font-size:5px">50</text><text class="a r" x="-2" y="14.5" style="font-size:5px">75</text><text class="a r" x="-2" y="4.5" style="font-size:5px">100</text>
<text class="a am" transform="translate(-12,24) rotate(-90)">FPKM</text>
<text class="a am" x="10.7" y="52">WT</text><text class="a am" x="28.5" y="52">C1</text><text class="a am" x="46.3" y="52">C3</text>
</g>

<g id="chart-ugt-d" transform="translate(619,623)">
<path class="gd" d="M0,39.5H58M0,30.7H58M0,21.9H58M0,13.1H58M0,4.3H58M10.9,0V42M29,0V42M47.1,0V42"/>
<rect class="wt" x="5.4" y="9.6" width="11" height="29.9"/><rect class="c1" x="23.5" y="33.2" width="11" height="6.3"/><rect class="c3" x="41.6" y="31.8" width="11" height="7.7"/>
<path class="er" d="M10.9,4.3V14.9M29,31.8V34.9M47.1,29.6V33.9"/>
<rect class="box" width="58" height="42"/>
<path class="tk" d="M-1.5,39.5H0M-1.5,30.7H0M-1.5,21.9H0M-1.5,13.1H0M-1.5,4.3H0M10.9,42V43.5M29,42V43.5M47.1,42V43.5"/>
<text class="a r" x="-2.5" y="41.5">0</text><text class="a r" x="-2.5" y="32.7">2.5</text><text class="a r" x="-2.5" y="23.9">5.0</text><text class="a r" x="-2.5" y="15.1">7.5</text><text class="a r" x="-2.5" y="6.3">10.0</text>
<text class="a am" transform="translate(-16,21) rotate(-90)">FPKM</text>
<text class="a am" x="10.9" y="49">WT</text><text class="a am" x="29" y="49">C1</text><text class="a am" x="47.1" y="49">C3</text>
</g>

<!-- legend -->
<g id="legend">
<text x="10" y="615" style="font-weight:bold;font-size:10.5px;fill:#222">Heatmap legend</text>
<text x="7" y="648" style="font-size:10.5px;fill:#222">log2(FPKM+1)</text>
<rect x="83" y="636" width="146" height="9" fill="url(#lg)"/>
<g style="font-size:8px;fill:#333" text-anchor="middle">
<text transform="translate(89,630) rotate(-90)">7</text>
<text transform="translate(109,630) rotate(-90)">6</text>
<text transform="translate(128,630) rotate(-90)">5</text>
<text transform="translate(147,630) rotate(-90)">4</text>
<text transform="translate(166,630) rotate(-90)">3</text>
<text transform="translate(186,630) rotate(-90)">2</text>
<text transform="translate(208,630) rotate(-90)">1</text>
<text transform="translate(229,630) rotate(-90)">0</text>
</g>
<g class="hm"><rect x="24" y="667" width="15.3" height="10.5" fill="#fff"/><rect x="39.3" y="667" width="15.3" height="10.5" fill="#fff"/><rect x="54.6" y="667" width="15.3" height="10.5" fill="#fff"/></g>
<text x="24" y="686" style="font-size:9.5px;fill:#222">WT C1 C3</text>
<use href="#u" x="76" y="672.5"/>
<text x="80" y="676" style="font-size:9.8px;fill:#222">Up-regulated</text>
<use href="#d" x="149" y="672.5"/>
<text x="154" y="676" style="font-size:9.8px;fill:#222">Down-regulated</text>
</g>
</svg>
